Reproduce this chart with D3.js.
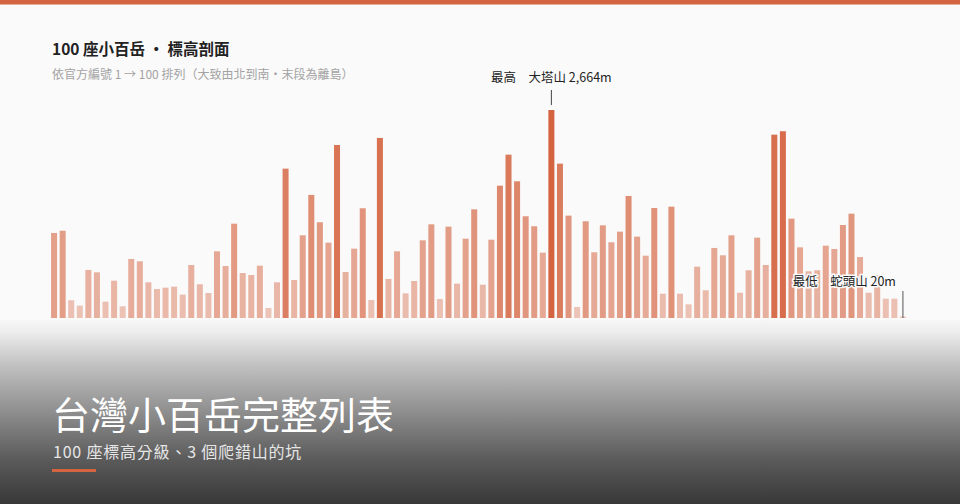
<!DOCTYPE html>
<html>
<head>
<meta charset="utf-8">
<script src="https://cdn.jsdelivr.net/npm/d3@7"></script>
<style>
  html, body { margin: 0; padding: 0; background: #fafafa; }
  svg { display: block; font-family: "Noto Sans CJK TC", "Noto Sans", sans-serif; }
</style>
</head>
<body>
<svg id="chart" width="960" height="504"></svg>
<script>
// elevations (m) of the 100 small peaks, in official order 1 -> 100
var elevations = [1089, 1118, 227, 158, 615, 585, 209, 478, 150, 756,
  726, 457, 371, 388, 401, 299, 679, 432, 320, 854,
  666, 1208, 576, 551, 670, 128, 457, 1913, 487, 1059,
  1576, 1226, 965, 2216, 589, 888, 1405, 231, 2306, 500,
  854, 316, 474, 995, 1200, 243, 1170, 440, 1016, 1392,
  427, 1003, 1695, 2092, 1751, 1303, 1175, 837, 2664, 1977,
  1311, 141, 1239, 842, 1187, 970, 1106, 1563, 1042, 798,
  1409, 311, 1426, 311, 175, 657, 355, 897, 803, 1059,
  324, 611, 1029, 679, 2348, 2392, 1272, 905, 598, 611,
  926, 884, 1191, 1336, 781, 324, 551, 247, 247, 20];
var ids = elevations.map(function(d, i){ return i + 1; });

var highest = { id: 59, label: "最高　大塔山 2,664m" };
var lowest = { id: 100, label: "最低　蛇頭山 20m" };

var title = "100 座小百岳 · 標高剖面";
var subtitle = "依官方編號 1 → 100 排列（大致由北到南・末段為離島）";
var heroTitle = "台灣小百岳完整列表";
var heroSub = "100 座標高分級、3 個爬錯山的坑";

var accent = "#d4633f";
var svg = d3.select('#chart');

svg.append('rect').attr('x', 0).attr('y', 0).attr('width', 960).attr('height', 504).attr('fill', '#fafafa');
svg.append('rect').attr('x', 0).attr('y', 0).attr('width', 960).attr('height', 4.5).attr('fill', accent);

svg.append('text').attr('x', 52).attr('y', 55)
  .attr('font-size', 15.5).attr('font-weight', 700).attr('fill', '#222')
  .text(title);
svg.append('text').attr('x', 52).attr('y', 79)
  .attr('font-size', 12).attr('fill', '#a3a3a3')
  .text(subtitle);

var x = d3.scaleBand().domain(ids).range([48.5, 908.5]).padding(0.3);
var y = d3.scaleLinear().domain([0, d3.max(elevations)]).range([318, 110]);
var op = d3.scaleLinear().domain([0, d3.max(elevations)]).range([0.33, 1]);

var bars = svg.append('g');
bars.selectAll('rect')
  .data(elevations)
  .enter().append('rect')
  .attr('x', function(d, i){ return x(ids[i]); })
  .attr('y', function(d){ return y(d); })
  .attr('width', x.bandwidth())
  .attr('height', function(d){ return y(0) - y(d); })
  .attr('fill', accent)
  .attr('fill-opacity', function(d){ return op(d); });

// annotations
var hx = x(highest.id) + x.bandwidth()/2;
var hy = y(elevations[highest.id - 1]);
svg.append('line').attr('x1', hx).attr('x2', hx).attr('y1', hy - 20).attr('y2', hy - 5)
  .attr('stroke', '#444').attr('stroke-width', 1);
svg.append('text').attr('x', hx).attr('y', hy - 28)
  .attr('text-anchor', 'middle').attr('font-size', 12.5).attr('font-weight', 400).attr('fill', '#222')
  .text(highest.label);

var lx = x(lowest.id) + x.bandwidth()/2;
svg.append('line').attr('x1', lx).attr('x2', lx).attr('y1', y(0) - 27).attr('y2', y(0))
  .attr('stroke', '#555').attr('stroke-width', 1);
svg.append('text').attr('x', lx - 7).attr('y', y(0) - 32)
  .attr('text-anchor', 'end').attr('font-size', 12.5).attr('font-weight', 400).attr('fill', '#222')
  .attr('stroke', '#fafafa').attr('stroke-width', 3).attr('paint-order', 'stroke')
  .text(lowest.label);

// bottom dark overlay
var defs = svg.append('defs');
var grad = defs.append('linearGradient').attr('id', 'shade').attr('x1', 0).attr('y1', 0).attr('x2', 0).attr('y2', 1);
[[0, '#f6f6f6'], [0.06, '#eeeeee'], [0.25, '#c0c0c0'], [0.5, '#8e8e8e'], [0.75, '#5c5c5c'], [1, '#383838']].forEach(function(s){
  grad.append('stop').attr('offset', s[0]).attr('stop-color', s[1]);
});
svg.append('rect').attr('x', 0).attr('y', 320).attr('width', 960).attr('height', 184).attr('fill', 'url(#shade)');

svg.append('text').attr('x', 52).attr('y', 429)
  .attr('font-size', 38).attr('fill', '#fff')
  .text(heroTitle);
svg.append('text').attr('x', 53).attr('y', 458)
  .attr('font-size', 16).attr('letter-spacing', 0.8).attr('fill', '#e6e6e6')
  .text(heroSub);
svg.append('rect').attr('x', 52).attr('y', 469).attr('width', 44).attr('height', 3).attr('fill', accent);
</script>
</body>
</html>
